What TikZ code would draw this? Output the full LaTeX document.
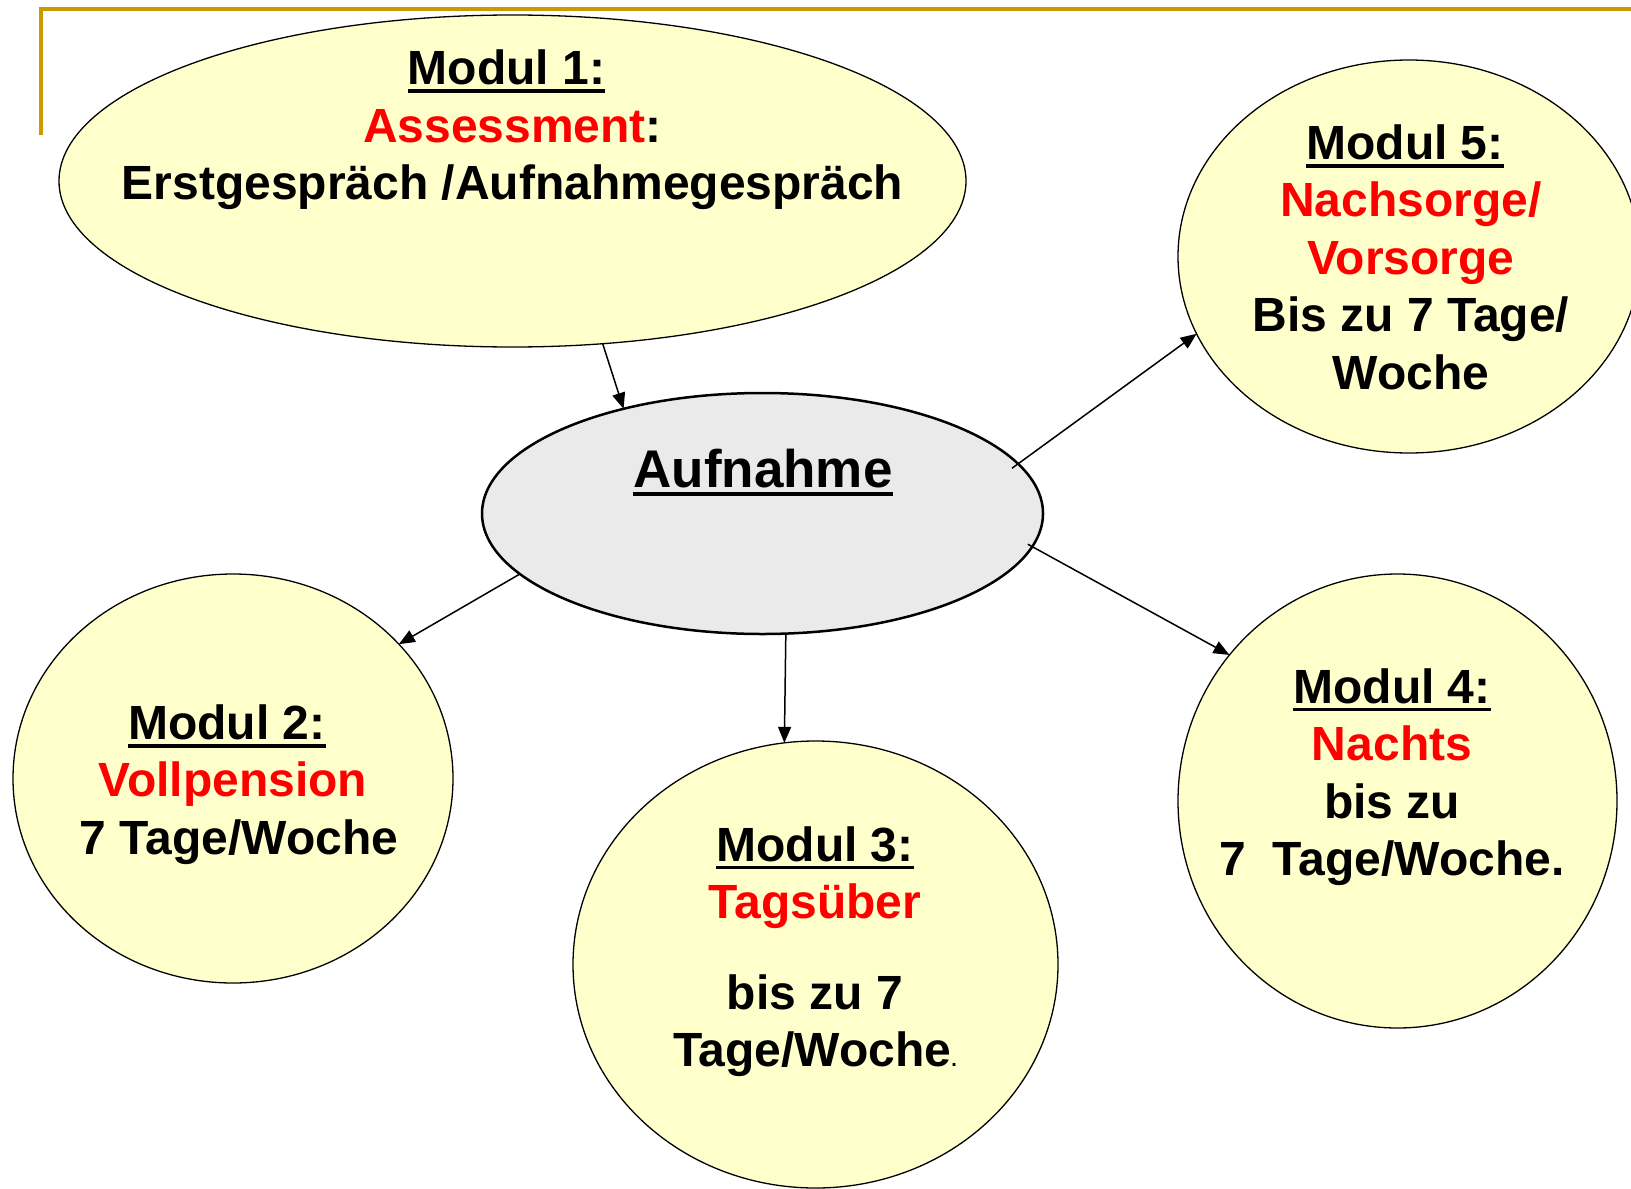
\documentclass[tikz,border=0pt]{standalone}
\usepackage{fontspec}
\setmainfont{Liberation Sans}
\usetikzlibrary{shapes.geometric,arrows.meta}

\definecolor{hellgelb}{HTML}{FFFFCC}
\definecolor{hellgrau}{HTML}{EAEAEA}
\definecolor{rahmengold}{HTML}{CC9900}

% underline that does not change the height of the line
\newcommand{\ulbold}[1]{\setbox0\hbox{#1}\rlap{\smash{\rule[-4.2pt]{\wd0}{1.9pt}}}\box0}
\newcommand{\modul}[1]{\ulbold{Modul #1:}}
\newcommand{\rot}[1]{\textcolor{red}{#1}}

\begin{document}
\begin{tikzpicture}[x=0.5pt,y=-0.5pt,>={Triangle[length=8pt,width=6.5pt]},
  modul/.style={ellipse,draw,fill=hellgelb,line width=0.65pt,inner sep=0pt,outer sep=0pt},
  txt/.style={align=center,inner sep=0pt,font=\bfseries\fontsize{24}{28.75}\selectfont},
  pfeil/.style={->,line width=0.75pt}]
  \useasboundingbox (0,0) rectangle (1631,1188);
  \draw[rahmengold,line width=1.6pt] (41,135) -- (41,9) -- (1640,9);

  \node[modul,minimum width=453.5pt,minimum height=166pt] (m1) at (512.5,181) {};
  \node[modul,fill=hellgrau,line width=1.25pt,minimum width=280.5pt,minimum height=120.5pt] (auf) at (762.5,513.5) {};
  \node[modul,minimum width=220pt,minimum height=204.5pt] (m2) at (233,778.5) {};
  \node[modul,minimum width=242.5pt,minimum height=223.5pt] (m3) at (815.5,964.5) {};
  \node[modul,minimum width=219.5pt,minimum height=227pt] (m4) at (1397.5,801) {};
  \node[modul,minimum width=231pt,minimum height=196.5pt] (m5) at (1409,256.5) {};

  \node[txt] (t1) at (512.5,130) {\modul{1}\hspace*{.25em}\\\rot{Assessment}:\\Erstgespräch /Aufnahmegespräch};
  \node[txt,font=\bfseries\fontsize{26.5}{30}\selectfont] (t0) at (763,468.5) {\ulbold{Aufnahme}};
  \node[txt] (t2) at (233,784.5) {\modul{2}\hspace*{.25em}\\\rot{Vollpension}\\\hspace*{.25em}7 Tage/Woche};
  \node[txt] (t3) at (815,951.5) {\modul{3}\\\rot{Tagsüber}\\[16.5pt]bis zu 7\\Tage/Woche{\fontsize{10}{10}\selectfont.}};
  \node[txt] (t4) at (1392,777) {\modul{4}\\\rot{Nachts}\\bis zu\\7\ \ Tage/Woche.};
  \node[txt] (t5) at (1411,257) {\modul{5}\hspace*{.25em}\\\rot{Nachsorge/}\\\rot{Vorsorge}\\Bis zu 7 Tage/\\Woche};

  \draw[pfeil] (m1.299) -- (auf.143);
  \draw[pfeil] (auf.194) -- (m2.39);
  \draw[pfeil] (auf.281) -- (m3.98);
  \draw[pfeil,shorten <=-2.5pt] (auf.353) -- (m4.139);
  \draw[pfeil,shorten <=-3.75pt] (auf.11) -- (m5.200);
\end{tikzpicture}
\end{document}
